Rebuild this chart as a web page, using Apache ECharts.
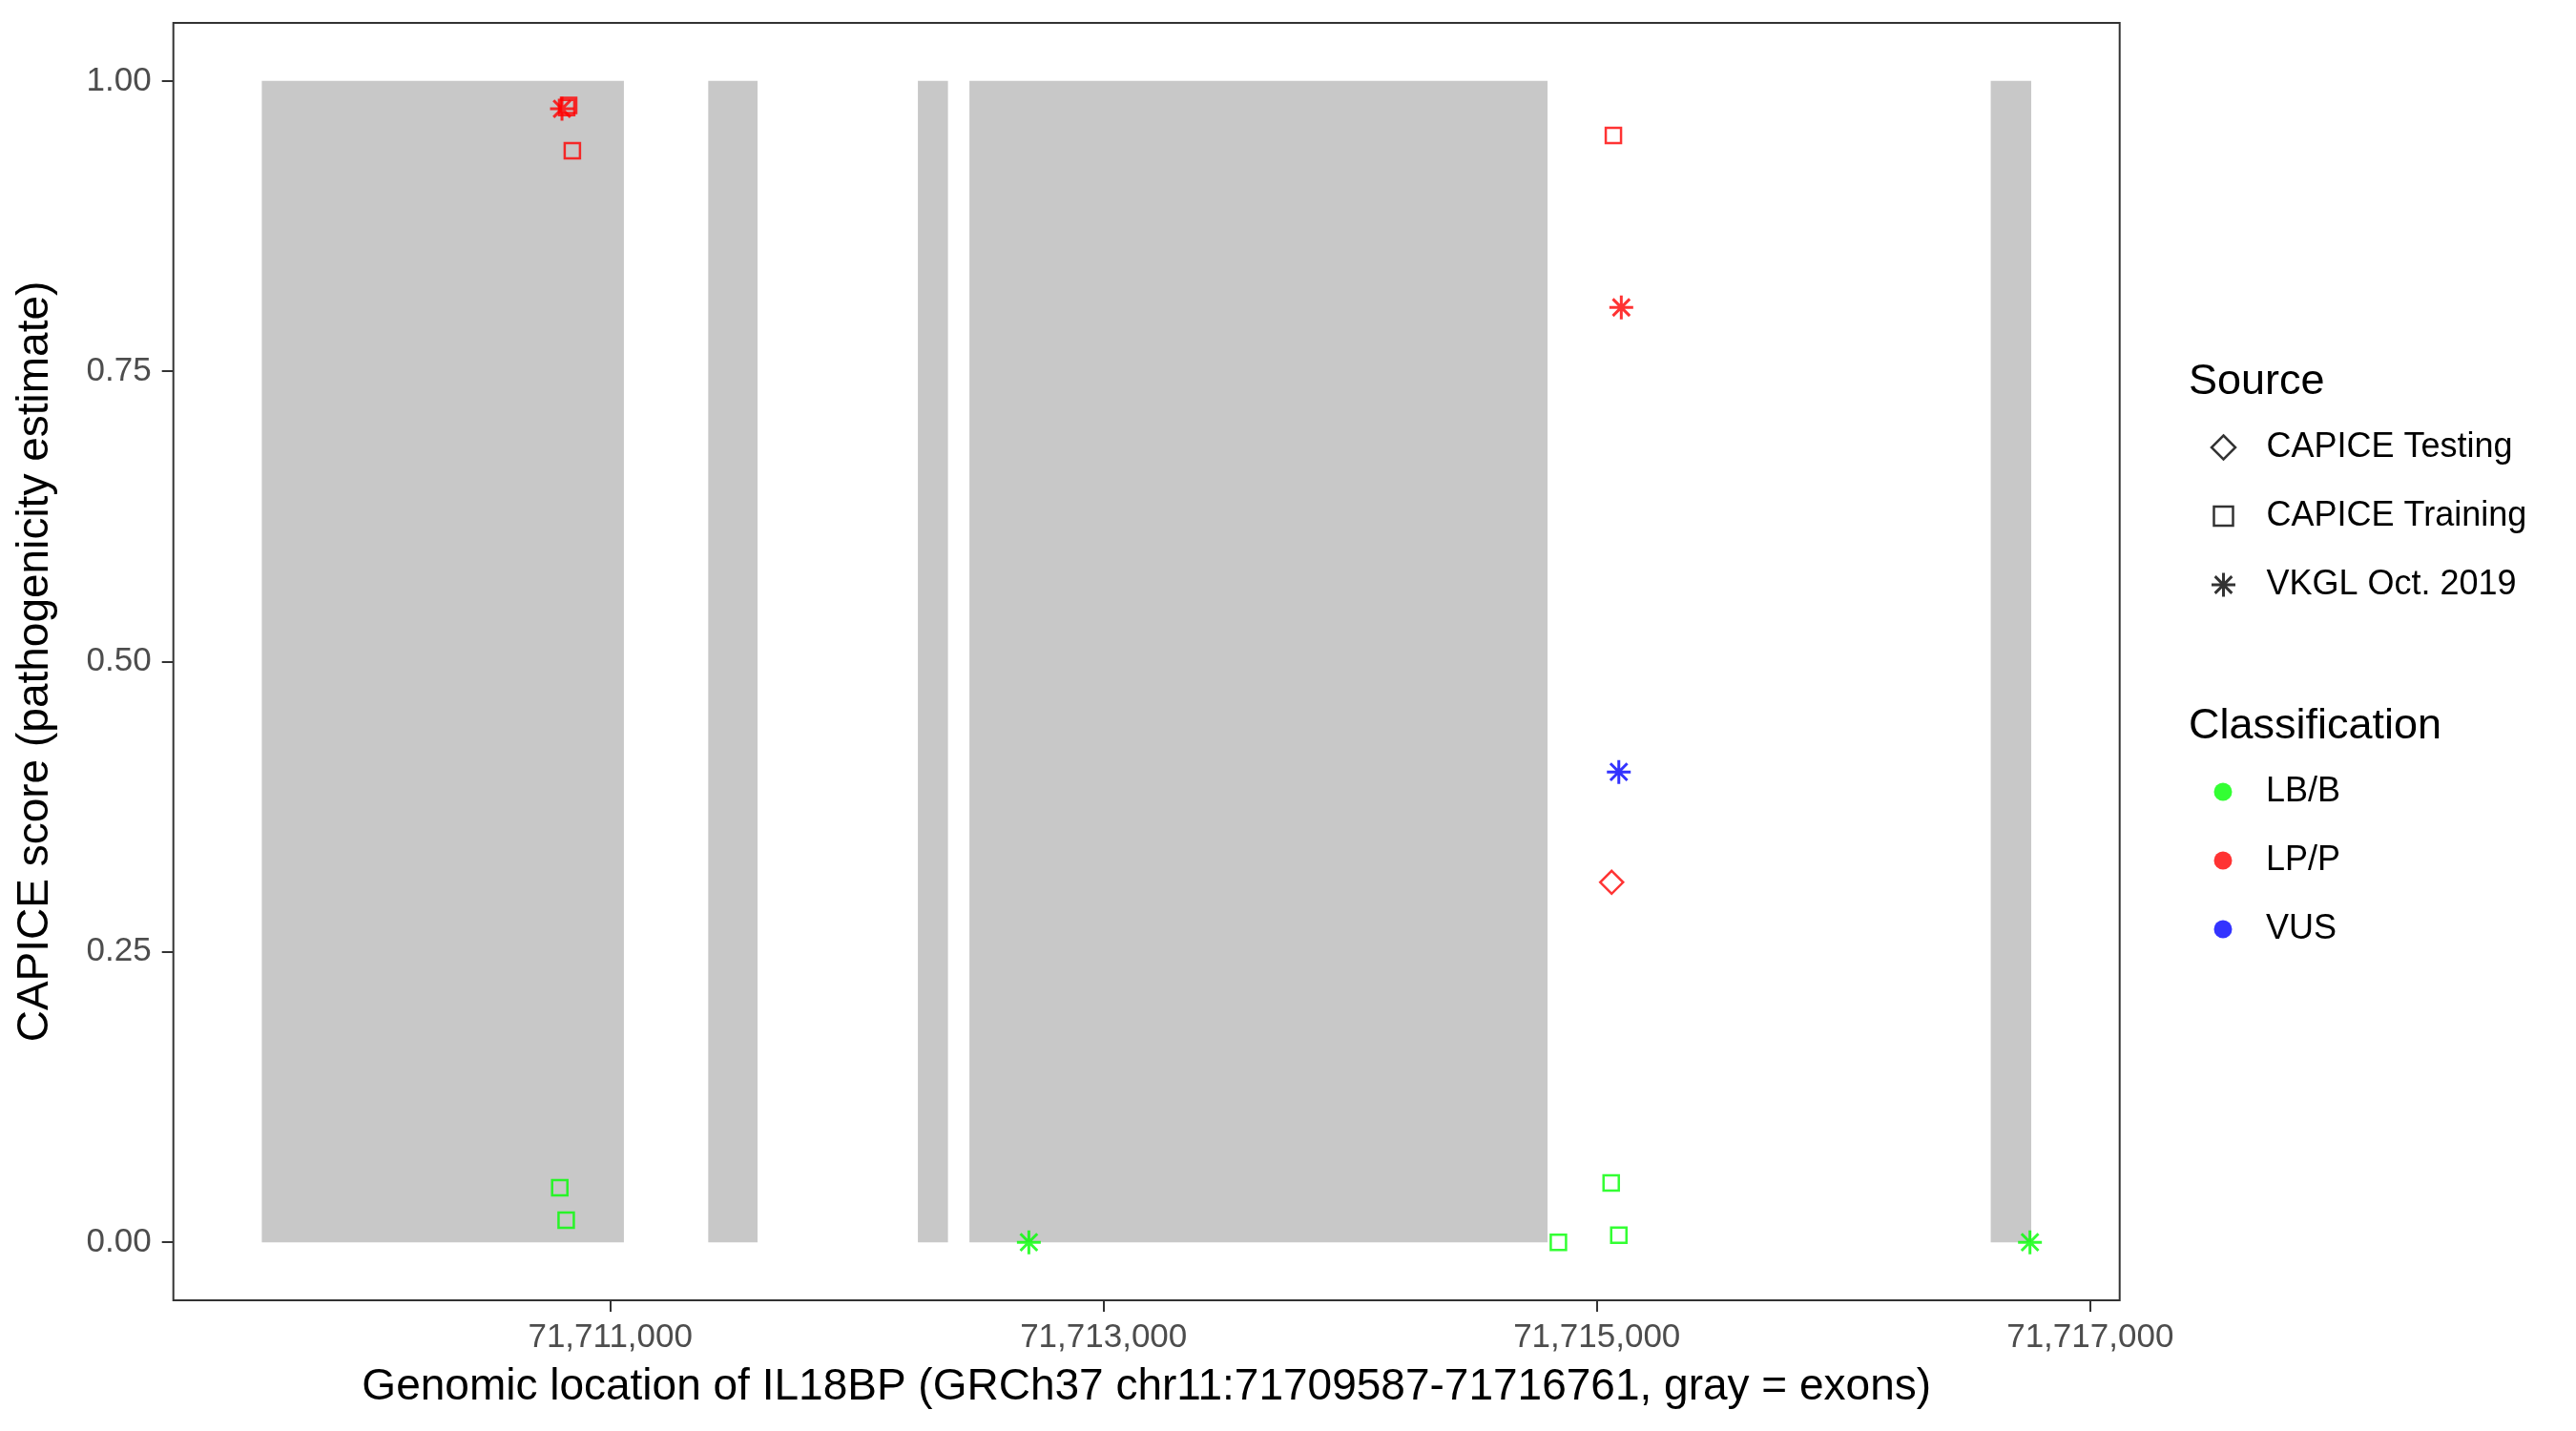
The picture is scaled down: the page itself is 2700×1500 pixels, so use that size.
<!DOCTYPE html>
<html>
<head>
<meta charset="utf-8">
<script src="https://cdn.jsdelivr.net/npm/echarts@6/dist/echarts.min.js"></script>
<style>
html,body{margin:0;padding:0;background:#fff;}
#chart{width:2700px;height:1500px;}
</style>
</head>
<body>
<div id="chart"></div>
<script>
// ---- data ----
const regionStart = 71709587;
const regionEnd = 71716761;
const exonStart = [71709587, 71711397, 71712247, 71712456, 71716597];
const exonEnd   = [71711055, 71711597, 71712369, 71714800, 71716761];

const xTicks = [71711000, 71713000, 71715000, 71717000];
const yTicks = [0, 0.25, 0.5, 0.75, 1];

const sourceNames = ['CAPICE Testing', 'CAPICE Training', 'VKGL Oct. 2019'];
const classNames = ['LB/B', 'LP/P', 'VUS'];

const testingPos   = [71715060];
const testingScore = [0.310];
const testingClass = ['LP/P'];

const trainingPos   = [71710823, 71710831, 71710846, 71715067, 71710795, 71710821, 71715058, 71715089, 71714844];
const trainingScore = [0.977, 0.979, 0.940, 0.953, 0.047, 0.019, 0.051, 0.006, 0.000];
const trainingClass = ['LP/P', 'LP/P', 'LP/P', 'LP/P', 'LB/B', 'LB/B', 'LB/B', 'LB/B', 'LB/B'];

const vkglPos   = [71710804, 71715099, 71715089, 71712697, 71716756];
const vkglScore = [0.976, 0.805, 0.405, 0.000, 0.000];
const vkglClass = ['LP/P', 'LP/P', 'VUS', 'LB/B', 'LB/B'];

// ---- styling ----
const classColor = {'LB/B': '#00FF00', 'LP/P': '#FF0000', 'VUS': '#0000FF'};
const FONT = '"Liberation Sans", Arial, Helvetica, sans-serif';
const ASTERISK = 'path://M0,-1L0,1M-1,0L1,0M-0.7071,-0.7071L0.7071,0.7071M-0.7071,0.7071L0.7071,-0.7071';
// legend icons padded to the full 80 x 25 item box so every item shares the same bounds
const LEG_DIAMOND = 'path://M-40,-12.5M40,12.5M0,-12.5L12.5,0L0,12.5L-12.5,0Z';
const LEG_SQUARE = 'path://M-40,-12.5M40,12.5M-10,-10L10,-10L10,10L-10,10Z';
const LEG_ASTERISK = 'path://M-40,-12.5M40,12.5M0,-12.5L0,12.5M-12.5,0L12.5,0M-8.84,-8.84L8.84,8.84M-8.84,8.84L8.84,-8.84';
const LEG_CIRCLE = 'path://M-40,-9.5M40,9.5M-9.5,0A9.5,9.5 0 1,0 9.5,0A9.5,9.5 0 1,0 -9.5,0Z';
const STROKE = 2.5;
const STAR_STROKE = 3;

const span = regionEnd - regionStart;
const xMin = regionStart - 0.05 * span;
const xMax = regionEnd + 0.05 * span;

function fmtThousands(v) {
  return String(Math.round(v)).replace(/\B(?=(\d{3})+(?!\d))/g, ',');
}

function makePoints(pos, score, cls, hollow, width) {
  return pos.map((x, i) => ({
    value: [x, score[i]],
    itemStyle: {
      color: hollow ? 'rgba(0,0,0,0)' : classColor[cls[i]],
      borderColor: classColor[cls[i]],
      borderWidth: width
    }
  }));
}

const exonData = exonStart.map((s, i) => [s, exonEnd[i], 0, 1]);

const chart = echarts.init(document.getElementById('chart'), null, {renderer: 'canvas'});

const option = {
  backgroundColor: '#ffffff',
  animation: false,
  textStyle: {fontFamily: FONT},
  title: [
    {text: 'Source', left: 2294, top: 376, padding: 0,
     textStyle: {fontFamily: FONT, fontSize: 45, fontWeight: 'normal', color: '#000', lineHeight: 50}},
    {text: 'Classification', left: 2294, top: 737, padding: 0,
     textStyle: {fontFamily: FONT, fontSize: 45, fontWeight: 'normal', color: '#000', lineHeight: 50}}
  ],
  grid: {
    left: 181.7, top: 24, width: 2040, height: 1339,
    show: true, borderColor: '#333333', borderWidth: 2, backgroundColor: '#ffffff',
    containLabel: false
  },
  xAxis: {
    type: 'value',
    min: xMin, max: xMax,
    name: 'Genomic location of IL18BP (GRCh37 chr11:71709587-71716761, gray = exons)',
    nameLocation: 'middle',
    nameGap: 68,
    nameTextStyle: {fontFamily: FONT, fontSize: 46, color: '#000'},
    axisLine: {show: false, onZero: false},
    splitLine: {show: false},
    axisTick: {show: true, length: 12, customValues: xTicks, lineStyle: {color: '#333333', width: 2}},
    axisLabel: {
      customValues: xTicks, margin: 22,
      fontFamily: FONT, fontSize: 35, color: '#4D4D4D',
      formatter: v => fmtThousands(v)
    }
  },
  yAxis: {
    type: 'value',
    min: -0.05, max: 1.05,
    name: 'CAPICE score (pathogenicity estimate)',
    nameLocation: 'middle',
    nameGap: 121,
    nameTextStyle: {fontFamily: FONT, fontSize: 46, color: '#000'},
    axisLine: {show: false, onZero: false},
    splitLine: {show: false},
    axisTick: {show: true, length: 12, customValues: yTicks, lineStyle: {color: '#333333', width: 2}},
    axisLabel: {
      customValues: yTicks, margin: 23,
      fontFamily: FONT, fontSize: 35, color: '#4D4D4D',
      formatter: v => v.toFixed(2)
    }
  },
  legend: [
    {
      orient: 'vertical', left: 2289, top: 449, padding: 0,
      itemWidth: 80, itemHeight: 25, itemGap: 32,
      selectedMode: false,
      textStyle: {fontFamily: FONT, fontSize: 36, color: '#000', lineHeight: 40},
      data: [
        {name: 'CAPICE Testing', icon: LEG_DIAMOND,
         itemStyle: {color: 'rgba(0,0,0,0)', borderColor: '#000', borderWidth: STROKE}},
        {name: 'CAPICE Training', icon: LEG_SQUARE,
         itemStyle: {color: 'rgba(0,0,0,0)', borderColor: '#000', borderWidth: STROKE}},
        {name: 'VKGL Oct. 2019', icon: LEG_ASTERISK,
         itemStyle: {color: 'rgba(0,0,0,0)', borderColor: '#000', borderWidth: STAR_STROKE}}
      ]
    },
    {
      orient: 'vertical', left: 2290, top: 810, padding: 0,
      itemWidth: 80, itemHeight: 19, itemGap: 32,
      selectedMode: false,
      textStyle: {fontFamily: FONT, fontSize: 36, color: '#000', lineHeight: 40},
      data: classNames.map(c => ({name: c, icon: LEG_CIRCLE,
        itemStyle: {color: classColor[c], borderColor: 'rgba(0,0,0,0)', borderWidth: 0}}))
    }
  ],
  series: [
    {
      type: 'custom',
      name: 'exons',
      silent: true,
      z: 1,
      renderItem: function (params, api) {
        const p0 = api.coord([api.value(0), api.value(2)]);
        const p1 = api.coord([api.value(1), api.value(3)]);
        return {
          type: 'rect',
          shape: {x: p0[0], y: p1[1], width: p1[0] - p0[0], height: p0[1] - p1[1]},
          style: {fill: '#C8C8C8'}
        };
      },
      encode: {x: [0, 1], y: [2, 3]},
      data: exonData
    },
    {
      type: 'scatter', name: 'CAPICE Testing', z: 3,
      symbol: 'diamond', symbolSize: 24,
      itemStyle: {color: 'rgba(0,0,0,0)', borderColor: '#000', borderWidth: STROKE},
      data: makePoints(testingPos, testingScore, testingClass, true, STROKE)
    },
    {
      type: 'scatter', name: 'CAPICE Training', z: 3,
      symbol: 'rect', symbolSize: 16,
      itemStyle: {color: 'rgba(0,0,0,0)', borderColor: '#000', borderWidth: STROKE},
      data: makePoints(trainingPos, trainingScore, trainingClass, true, STROKE)
    },
    {
      type: 'scatter', name: 'VKGL Oct. 2019', z: 3,
      symbol: ASTERISK, symbolSize: 25,
      itemStyle: {color: '#000', borderColor: '#000', borderWidth: STAR_STROKE},
      data: makePoints(vkglPos, vkglScore, vkglClass, false, STAR_STROKE)
    },
    ...classNames.map(c => ({
      type: 'scatter', name: c, data: [],
      itemStyle: {color: classColor[c]}
    }))
  ]
};

chart.setOption(option);
</script>
</body>
</html>
